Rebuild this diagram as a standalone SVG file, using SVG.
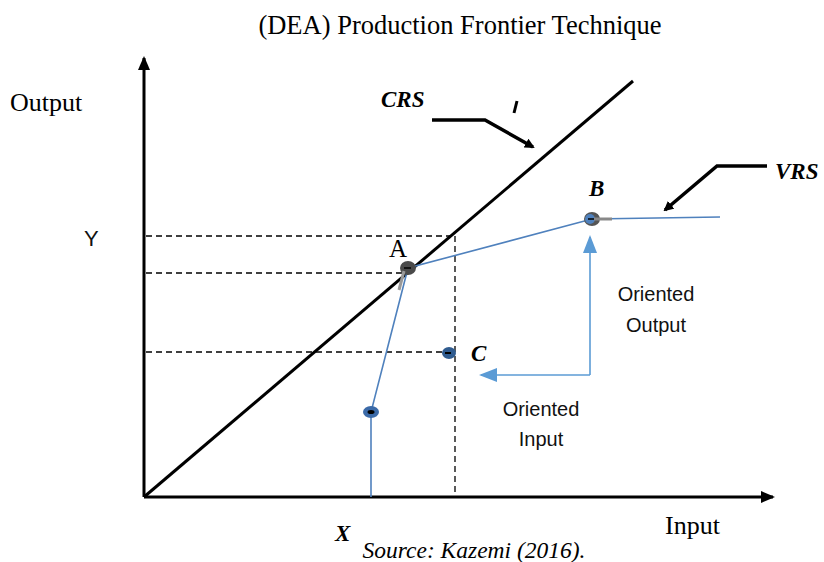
<svg xmlns="http://www.w3.org/2000/svg" width="824" height="562" viewBox="0 0 824 562">
<defs>
<marker id="blk" markerWidth="10" markerHeight="10" refX="8" refY="5" orient="auto" markerUnits="userSpaceOnUse"><path d="M0,0 L10,5 L0,10 Z" fill="#000"/></marker>
<marker id="blkax" markerWidth="14" markerHeight="12" refX="12" refY="6" orient="auto" markerUnits="userSpaceOnUse"><path d="M0,0 L14,6 L0,12 Z" fill="#000"/></marker>
<marker id="blu" markerWidth="18" markerHeight="14" refX="16" refY="7" orient="auto" markerUnits="userSpaceOnUse"><path d="M0,0 L18,7 L0,14 Z" fill="#5b9bd5"/></marker>
</defs>
<style>
.serif{font-family:"Liberation Serif","Times New Roman",serif;fill:#000}
.bi{font-family:"Liberation Serif","Times New Roman",serif;font-weight:bold;font-style:italic;fill:#000}
.sans{font-family:"Liberation Sans",Arial,sans-serif;fill:#111}
.dash{stroke:#000;stroke-width:1.3;stroke-dasharray:6,4;fill:none}
.vrs{stroke:#4f81bd;stroke-width:1.6;fill:none}
.ori{stroke:#5b9bd5;stroke-width:1.6;fill:none}
</style>
<rect width="824" height="562" fill="#fff"/>
<text class="serif" x="460" y="34" font-size="26.5" text-anchor="middle">(DEA) Production Frontier Technique</text>
<g id="connectors">
<line x1="144" y1="497" x2="144" y2="58" stroke="#000" stroke-width="3" marker-end="url(#blkax)"/>
<line x1="144" y1="497" x2="773" y2="497" stroke="#000" stroke-width="3" marker-end="url(#blkax)"/>
<line id="crs" x1="144" y1="497" x2="633" y2="81" stroke="#000" stroke-width="3"/>
<line class="dash" x1="146" y1="236" x2="455" y2="236"/>
<line class="dash" x1="146" y1="273" x2="404" y2="273"/>
<line class="dash" x1="146" y1="352" x2="443" y2="352"/>
<line class="dash" x1="455" y1="236" x2="455" y2="494"/>
<polyline class="vrs" points="371,497 371,412 408,268 592,219 720,217"/>
<polyline points="432,120 485,120 533,147" stroke="#000" stroke-width="3.5" fill="none" marker-end="url(#blk)"/>
<polyline points="767,166 717,166 665,210" stroke="#000" stroke-width="3.5" fill="none" marker-end="url(#blk)"/>
<line x1="517" y1="101" x2="514" y2="113" stroke="#000" stroke-width="3"/>
<line class="ori" x1="590" y1="375" x2="590" y2="237" marker-end="url(#blu)"/>
<line class="ori" x1="590" y1="375" x2="481" y2="375" marker-end="url(#blu)"/>
</g>
<g id="node-A">
<ellipse cx="408" cy="268" rx="8" ry="7" fill="#4a4a4a"/>
<line x1="404" y1="271" x2="399" y2="290" stroke="#999" stroke-width="3"/>
<line x1="404" y1="268" x2="411" y2="268" stroke="#000" stroke-width="1.5"/>
<text class="serif" x="389" y="257" font-size="25">A</text>
</g>
<g id="node-B">
<ellipse cx="592" cy="219" rx="8" ry="7" fill="#555"/>
<ellipse cx="590" cy="219" rx="5" ry="5" fill="#4f81bd"/>
<line x1="594" y1="219" x2="612" y2="219" stroke="#888" stroke-width="3"/>
<line x1="588" y1="219" x2="594" y2="219" stroke="#000" stroke-width="1.5"/>
<text class="bi" x="589" y="196" font-size="23">B</text>
</g>
<g id="node-C">
<ellipse cx="449" cy="353" rx="7" ry="6" fill="#2f5b8f"/>
<line x1="445" y1="353" x2="451" y2="353" stroke="#000" stroke-width="2"/>
<text class="bi" x="471" y="361" font-size="23">C</text>
</g>
<g id="node-X">
<ellipse cx="371" cy="412" rx="8" ry="6" fill="#3b6aa8"/>
<ellipse cx="371" cy="412" rx="3.5" ry="2" fill="#000"/>
<text class="bi" x="335" y="541" font-size="23">X</text>
</g>
<g id="labels">
<text class="serif" x="10" y="111" font-size="26">Output</text>
<text class="sans" x="84" y="246" font-size="22">Y</text>
<text class="bi" x="381" y="107" font-size="23">CRS</text>
<text class="bi" x="775" y="179" font-size="23">VRS</text>
<text class="sans" x="656" y="301" font-size="20" text-anchor="middle">Oriented</text>
<text class="sans" x="656" y="332" font-size="20" text-anchor="middle">Output</text>
<text class="sans" x="541" y="416" font-size="20" text-anchor="middle">Oriented</text>
<text class="sans" x="541" y="446" font-size="20" text-anchor="middle">Input</text>
<text class="serif" x="665" y="534" font-size="26">Input</text>
<text class="serif" x="474" y="558" font-size="23.5" font-style="italic" text-anchor="middle">Source: Kazemi (2016).</text>
</g>
</svg>
